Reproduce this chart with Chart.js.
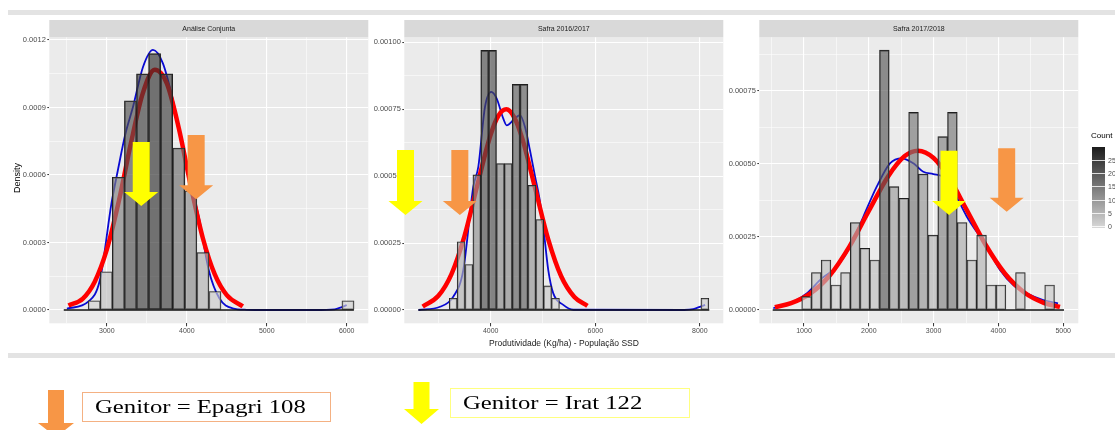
<!DOCTYPE html>
<html>
<head>
<meta charset="utf-8">
<title>Produtividade - População SSD</title>
<script src="https://cdn.jsdelivr.net/npm/chart.js@4.4.1/dist/chart.umd.min.js"></script>
<style>
  body { margin: 0; background: #fff; }
  #stage { position: relative; width: 1115px; height: 430px; overflow: hidden; background: #fff;
           font-family: "Liberation Sans", Arial, sans-serif; }
  #stage canvas { position: absolute; left: 0; top: 0; }
  .sep { position: absolute; left: 8px; width: 1107px; height: 5px; background: #e3e3e3; }
  #ytitle { position: absolute; left: 17px; top: 178px; transform: translate(-50%, -50%) rotate(-90deg);
            font-size: 9px; color: #000; white-space: nowrap; }
  #xtitle { position: absolute; left: 564px; top: 343px; transform: translate(-50%, -50%);
            font-size: 8.5px; color: #1a1a1a; white-space: nowrap; }
  #legtitle { position: absolute; left: 1091px; top: 131px; font-size: 8px; color: #000; }
  #colorbar { position: absolute; left: 1092px; top: 147px; width: 13px; height: 81px;
              background: linear-gradient(#1c1c1c, #d8d8d8); }
  .cbtick { position: absolute; height: 1px; width: 13px; left: 1092px; background: rgba(255,255,255,0.8); }
  .cblab { position: absolute; left: 1108px; font-size: 7px; color: #4d4d4d; transform: translateY(-50%); }
  .box { position: absolute; box-sizing: border-box; font-family: "Liberation Serif", "Times New Roman", serif;
         font-size: 19px; color: #000; padding-left: 12px; line-height: 28px; white-space: nowrap; }
  .box span { display: inline-block; transform: scaleX(1.3); transform-origin: left center; }
  .arrow { position: absolute; }
</style>
</head>
<body>
<div id="stage">
  <div class="sep" style="top:10px"></div>
  <div class="sep" style="top:353px"></div>
  <canvas id="panel1" width="1115" height="430"></canvas>
  <canvas id="panel2" width="1115" height="430"></canvas>
  <canvas id="panel3" width="1115" height="430"></canvas>
  <div id="ytitle">Density</div>
  <div id="xtitle">Produtividade (Kg/ha) - População SSD</div>
  <div id="legtitle">Count</div>
  <div id="colorbar"></div>
  <div id="cbticks"></div>
  <div class="arrow" style="left:38px;top:390px;width:36px;height:47px;background:#F79646;
       clip-path:polygon(10px 0,26px 0,26px 33px,36px 33px,18px 47px,0 33px,10px 33px)"></div>
  <div class="box" style="left:82px;top:392px;width:249px;height:30px;border:1px solid #F4B183;"><span>Genitor = Epagri 108</span></div>
  <div class="arrow" style="left:404px;top:382px;width:35px;height:42px;background:#FFFF00;
       clip-path:polygon(9.5px 0,25.5px 0,25.5px 27px,35px 27px,17.5px 42px,0 27px,9.5px 27px)"></div>
  <div class="box" style="left:450px;top:388px;width:240px;height:30px;border:1px solid #FFFF80;"><span>Genitor = Irat 122</span></div>
</div>
<script>
// ---- Análise Conjunta ----
const bins1 = [2842, 2993, 3144, 3295, 3446, 3597, 3748, 3899, 4050, 4201, 4352, 6016];
const dens1 = [0.000041, 0.00017, 0.00059, 0.00093, 0.00105, 0.00114, 0.00105, 0.00072, 0.00053, 0.000255, 0.000082, 0.000041];
const normX1 = [2520, 2700, 2850, 3000, 3150, 3300, 3450, 3600, 3750, 3900, 4050, 4200, 4350, 4500, 4700];
const normY1 = [0.00002, 0.000051, 0.000127, 0.000269, 0.000484, 0.00074, 0.000964, 0.001068, 0.001007, 0.000808, 0.000551, 0.00032, 0.000158, 0.000066, 0.000016];
const kdeX1 = [2500, 2767, 2913, 3058, 3137, 3230, 3328, 3452, 3577, 3701, 3826, 3950, 4050, 4158, 4274, 4407, 4573, 4750, 5000, 5600, 5850, 5930, 6000];
const kdeY1 = [0.000006, 0.000037, 0.000133, 0.000475, 0.00062, 0.00078, 0.000904, 0.00108, 0.001156, 0.001096, 0.000933, 0.000726, 0.00056, 0.0004, 0.000178, 0.000052, 0.0000075, 0.000001, 0, 0, 0.000003, 0.000012, 0.000022];
const base1 = [2461, 6090];

// ---- Safra 2016/2017 ----
const bins2 = [3283, 3434, 3584, 3735, 3885, 4036, 4186, 4336, 4487, 4637, 4788, 4938, 5088, 5239, 8096];
const dens2 = [0.000044, 0.000255, 0.00017, 0.000505, 0.00097, 0.00097, 0.000547, 0.000547, 0.000843, 0.000843, 0.000466, 0.000338, 0.00009, 0.000044, 0.000044];
const normX2 = [2700, 3000, 3250, 3500, 3750, 4000, 4150, 4300, 4450, 4600, 4850, 5100, 5350, 5600, 5850];
const normY2 = [0.000013, 0.000053, 0.000134, 0.000277, 0.000471, 0.000656, 0.000727, 0.00075, 0.00072, 0.000643, 0.000455, 0.000264, 0.000125, 0.0000485, 0.0000155];
const kdeX2 = [2620, 3031, 3285, 3476, 3667, 3763, 3891, 4010, 4115, 4241, 4306, 4432, 4560, 4656, 4751, 4847, 4930, 5006, 5101, 5197, 5388, 5580, 7700, 7874, 8000, 8100];
const kdeY2 = [0, 0.000012, 0.00005, 0.000149, 0.00046, 0.000535, 0.000759, 0.000815, 0.00079, 0.000715, 0.00069, 0.000709, 0.000728, 0.000684, 0.000597, 0.0005, 0.00042, 0.000311, 0.000149, 0.000062, 0.000019, 0.000001, 0, 0.000003, 0.000012, 0.000019];
const base2 = [2616, 8180];

// ---- Safra 2017/2018 ----
const bins3 = [1040, 1190, 1340, 1490, 1640, 1790, 1940, 2090, 2240, 2390, 2540, 2690, 2840, 2990, 3140, 3290, 3440, 3590, 3740, 3890, 4040, 4340, 4790];
const dens3 = [0.0000456, 0.000128, 0.000171, 0.0000855, 0.000128, 0.000299, 0.000211, 0.000171, 0.000889, 0.000422, 0.000382, 0.000676, 0.000465, 0.000256, 0.000593, 0.000676, 0.000299, 0.000171, 0.000256, 0.0000855, 0.0000855, 0.000128, 0.0000855];
const normX3 = [550, 800, 1100, 1400, 1700, 2000, 2300, 2550, 2760, 3000, 3250, 3500, 3800, 4100, 4400, 4700, 4950];
const normY3 = [0.0000099, 0.0000232, 0.0000567, 0.000119, 0.000217, 0.000339, 0.000458, 0.000526, 0.000545, 0.00052, 0.000448, 0.000347, 0.000224, 0.000125, 0.00006, 0.0000247, 0.0000106];
const kdeX3 = [526, 835, 1042, 1273, 1505, 1710, 1915, 2122, 2327, 2508, 2687, 2841, 2995, 3150, 3300, 3511, 3820, 4025, 4230, 4436, 4692, 4920];
const kdeY3 = [0.000006, 0.0000285, 0.000057, 0.000108, 0.000148, 0.000216, 0.000319, 0.000422, 0.000502, 0.000519, 0.000502, 0.000473, 0.000465, 0.000455, 0.00041, 0.00032, 0.000216, 0.000137, 0.0000855, 0.000057, 0.0000342, 0.000023];
const base3 = [517, 5012];

// tick values and labels
const xMajor1 = [3000, 4000, 5000, 6000], xMinor1 = [2500, 3500, 4500, 5500];
const yMajor1 = [0, 0.0003, 0.0006, 0.0009, 0.0012], yMinor1 = [0.00015, 0.00045, 0.00075, 0.00105];
const yLabels1 = ['0.0000', '0.0003', '0.0006', '0.0009', '0.0012'];
const xMajor2 = [4000, 6000, 8000], xMinor2 = [3000, 5000, 7000];
const yMajor2 = [0, 0.00025, 0.0005, 0.00075, 0.001], yMinor2 = [0.000125, 0.000375, 0.000625, 0.000875];
const yLabels2 = ['0.00000', '0.00025', '0.00050', '0.00075', '0.00100'];
const xMajor3 = [1000, 2000, 3000, 4000, 5000], xMinor3 = [500, 1500, 2500, 3500, 4500];
const yMajor3 = [0, 0.00025, 0.0005, 0.00075], yMinor3 = [0.000125, 0.000375, 0.000625, 0.000875];
const yLabels3 = ['0.00000', '0.00025', '0.00050', '0.00075'];
const countTicks = [0, 5, 10, 15, 20, 25];

// genitor arrows (data units of each panel)
const arrows1 = [{ x: 3430, top: 0.000747, tip: 0.000462, color: '#FFFF00' }, { x: 4117, top: 0.000778, tip: 0.000492, color: '#F79646' }];
const arrows2 = [{ x: 2371, top: 0.000598, tip: 0.000355, color: '#FFFF00' }, { x: 3410, top: 0.000598, tip: 0.000355, color: '#F79646' }];
const arrows3 = [{ x: 3238, top: 0.000545, tip: 0.000325, color: '#FFFF00' }, { x: 4128, top: 0.000553, tip: 0.000336, color: '#F79646' }];

// legend labels for the count colorbar
const cbTop = 147, cbStep = 13.2;
countTicks.forEach(function (c) {
    const y = cbTop + 79 - c / 5 * cbStep;
    const t = document.createElement('div');
    t.className = 'cbtick'; t.style.top = y + 'px';
    document.getElementById('cbticks').appendChild(t);
    const l = document.createElement('div');
    l.className = 'cblab'; l.style.top = y + 'px'; l.textContent = c;
    document.getElementById('cbticks').appendChild(l);
});

function countGray(d, unit) {
    const g = Math.round(215 - (d / unit) * 6.1);
    return 'rgba(' + g + ',' + g + ',' + g + ',0.65)';
}

function drawArrow(ctx, cx, top, tip, color) {
    const shaft = 17, head = 34, headLen = 14;
    ctx.save();
    ctx.fillStyle = color;
    ctx.beginPath();
    ctx.moveTo(cx - shaft / 2, top);
    ctx.lineTo(cx + shaft / 2, top);
    ctx.lineTo(cx + shaft / 2, tip - headLen);
    ctx.lineTo(cx + head / 2, tip - headLen);
    ctx.lineTo(cx, tip);
    ctx.lineTo(cx - head / 2, tip - headLen);
    ctx.lineTo(cx - shaft / 2, tip - headLen);
    ctx.closePath();
    ctx.fill();
    ctx.restore();
}

function pairs(xs, ys) {
    return xs.map((x, i) => ({ x: x, y: ys[i] }));
}

function axis(min, max, majors, minors, labels, isX) {
    const isMajor = (c) => !!(c && c.tick) && majors.includes(c.tick.value);
    return {
        type: 'linear',
        min: min,
        max: max,
        offset: false,
        border: { display: false },
        grid: {
            offset: false,
            color: '#ffffff',
            lineWidth: (c) => isMajor(c) ? 1.1 : 0.55,
            tickColor: (c) => isMajor(c) ? '#333333' : 'rgba(0,0,0,0)',
            tickLength: isX ? 3 : 2,
            tickWidth: 1
        },
        afterBuildTicks: function (scale) {
            scale.ticks = majors.concat(minors).sort((a, b) => a - b).map(v => ({ value: v }));
        },
        afterFit: function (scale) {
            if (isX) scale.height = 16; else scale.width = 40;
        },
        ticks: {
            autoSkip: false,
            maxRotation: 0,
            minRotation: 0,
            padding: isX ? 0.5 : 1.5,
            color: '#4d4d4d',
            font: { family: '"Liberation Sans", Arial, sans-serif', size: isX ? 7 : 7.5 },
            callback: function (v) {
                const i = majors.indexOf(v);
                return i < 0 ? '' : labels[i];
            }
        }
    };
}

function makePanel(id, p) {
    const panelPlugin = {
        id: 'panel' + id,
        beforeDraw(chart) {
            const a = chart.chartArea, ctx = chart.ctx;
            ctx.save();
            ctx.fillStyle = '#EBEBEB';
            ctx.fillRect(a.left, a.top, a.right - a.left, a.bottom - a.top);
            ctx.fillStyle = '#D9D9D9';
            ctx.fillRect(a.left, a.top - 17.3, a.right - a.left, 17.3);
            ctx.fillStyle = '#1a1a1a';
            ctx.font = '7px "Liberation Sans", Arial, sans-serif';
            ctx.textAlign = 'center';
            ctx.textBaseline = 'middle';
            ctx.fillText(p.title, (a.left + a.right) / 2, a.top - 8.6);
            ctx.restore();
        },
        afterDraw(chart) {
            const xs = chart.scales.x, ys = chart.scales.y;
            p.arrows.forEach(a => drawArrow(chart.ctx, xs.getPixelForValue(a.x), ys.getPixelForValue(a.top), ys.getPixelForValue(a.tip), a.color));
        }
    };

    new Chart(document.getElementById(id), {
        type: 'bar',
        data: {
            datasets: [
                {
                    type: 'line', label: 'base', order: 0,
                    data: pairs(p.base, [0, 0]),
                    borderColor: '#111111', borderWidth: 1.3, pointRadius: 0
                },
                {
                    type: 'bar', label: 'Count', order: 1,
                    data: pairs(p.bins, p.dens),
                    backgroundColor: p.dens.map(d => countGray(d, p.unit)),
                    borderColor: '#1e1e1e', borderWidth: 0.9, borderSkipped: false,
                    barPercentage: 1, categoryPercentage: 1
                },
                {
                    type: 'line', label: 'normal', order: 2,
                    data: pairs(p.normX, p.normY),
                    borderColor: '#ff0000', borderWidth: 4.5, pointRadius: 0,
                    cubicInterpolationMode: 'monotone'
                },
                {
                    type: 'line', label: 'density', order: 3,
                    data: pairs(p.kdeX, p.kdeY),
                    borderColor: '#0a0ad2', borderWidth: 1.8, pointRadius: 0,
                    cubicInterpolationMode: 'monotone'
                }
            ]
        },
        options: {
            responsive: false,
            animation: false,
            devicePixelRatio: 1,
            events: [],
            layout: { padding: { left: p.left - 40, right: 1115 - p.right, top: 37.3, bottom: 430 - 323.3 - 16 } },
            plugins: { legend: { display: false }, tooltip: { enabled: false } },
            scales: {
                x: axis(p.xMin, p.xMax, p.xMajor, p.xMinor, p.xMajor.map(String), true),
                y: axis(p.yMin, p.yMax, p.yMajor, p.yMinor, p.yLabels, false)
            }
        },
        plugins: [panelPlugin]
    });
}

makePanel('panel1', {
    title: 'Análise Conjunta', left: 49.3, right: 368.3,
    xMin: 2280, xMax: 6270, yMin: -0.0000591, yMax: 0.001212,
    xMajor: xMajor1, xMinor: xMinor1, yMajor: yMajor1, yMinor: yMinor1, yLabels: yLabels1,
    bins: bins1, dens: dens1, unit: 0.0000413,
    normX: normX1, normY: normY1, kdeX: kdeX1, kdeY: kdeY1, base: base1, arrows: arrows1
});
makePanel('panel2', {
    title: 'Safra 2016/2017', left: 404.3, right: 723.3,
    xMin: 2348, xMax: 8448, yMin: -0.0000497, yMax: 0.001019,
    xMajor: xMajor2, xMinor: xMinor2, yMajor: yMajor2, yMinor: yMinor2, yLabels: yLabels2,
    bins: bins2, dens: dens2, unit: 0.0000425,
    normX: normX2, normY: normY2, kdeX: kdeX2, kdeY: kdeY2, base: base2, arrows: arrows2
});
makePanel('panel3', {
    title: 'Safra 2017/2018', left: 759.3, right: 1078.3,
    xMin: 310, xMax: 5233, yMin: -0.0000455, yMax: 0.000933,
    xMajor: xMajor3, xMinor: xMinor3, yMajor: yMajor3, yMinor: yMinor3, yLabels: yLabels3,
    bins: bins3, dens: dens3, unit: 0.0000428,
    normX: normX3, normY: normY3, kdeX: kdeX3, kdeY: kdeY3, base: base3, arrows: arrows3
});
</script>
</body>
</html>
